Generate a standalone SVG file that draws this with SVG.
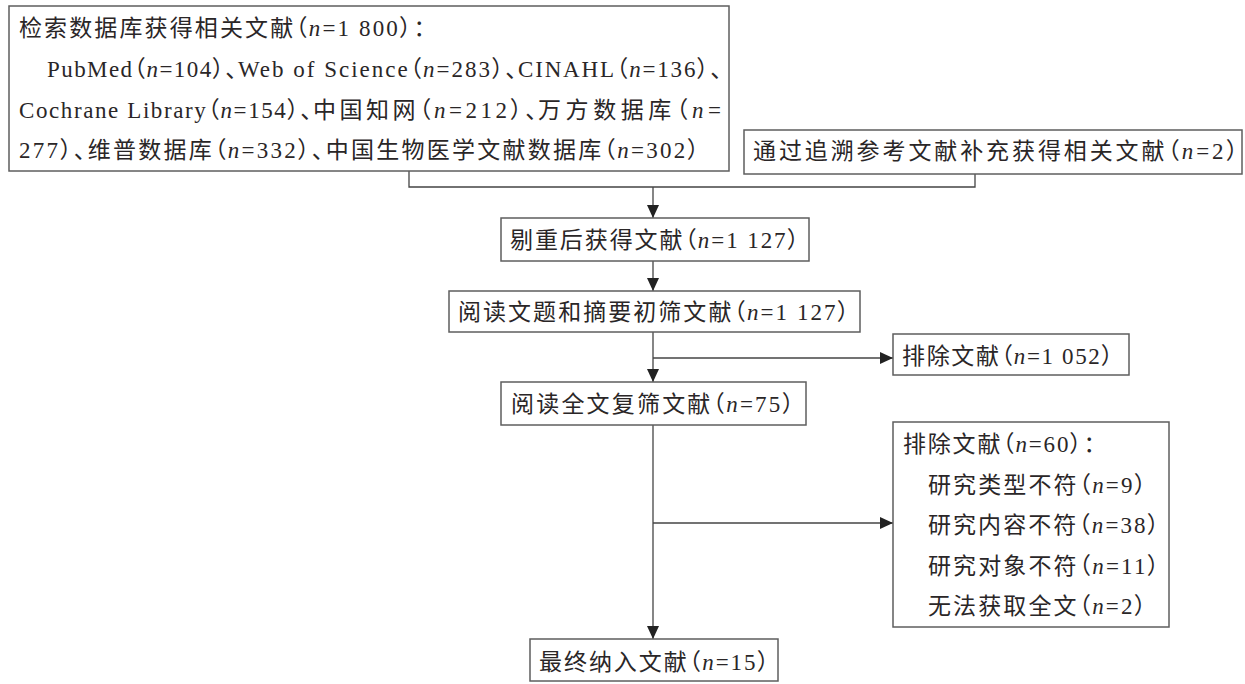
<svg xmlns="http://www.w3.org/2000/svg" width="1245" height="684" viewBox="0 0 1245 684">
<style>
.box{fill:#fff;stroke:#5e5e5e;stroke-width:1.5}
.t{font-family:"Liberation Serif","Noto Sans CJK SC",serif;font-size:23px;fill:#2a2627;font-feature-settings:"palt"}
.i{font-style:italic}
.c{fill:none;stroke:#444;stroke-width:1.3}
</style>
<defs>
<marker id="ah" markerUnits="userSpaceOnUse" markerWidth="13" markerHeight="12" refX="13" refY="6" orient="auto">
<path d="M0,0 L13,6 L0,12 z" fill="#222"/>
</marker>
</defs>
<rect width="1245" height="684" fill="#fff"/>
<g id="connectors">
<path class="c" d="M409,171 V187 H975 V174"/>
<path class="c" d="M653,187 V218" marker-end="url(#ah)"/>
<path class="c" d="M653,261 V291" marker-end="url(#ah)"/>
<path class="c" d="M653,332 V382" marker-end="url(#ah)"/>
<path class="c" d="M653,358 H893" marker-end="url(#ah)"/>
<path class="c" d="M653,425 V639" marker-end="url(#ah)"/>
<path class="c" d="M653,523 H893" marker-end="url(#ah)"/>
</g>
<g id="n1">
<rect class="box" x="9" y="6" width="720" height="165"/>
<text class="t" x="19" y="36" textLength="406" lengthAdjust="spacing">检索数据库获得相关文献（<tspan class="i">n</tspan>=1 800）：</text>
<text class="t" x="47" y="77" textLength="190" lengthAdjust="spacing">PubMed（<tspan class="i">n</tspan>=104）、</text>
<text class="t" x="238" y="77" textLength="279" lengthAdjust="spacing">Web of Science（<tspan class="i">n</tspan>=283）、</text>
<text class="t" x="518" y="77" textLength="204" lengthAdjust="spacing">CINAHL（<tspan class="i">n</tspan>=136）、</text>
<text class="t" x="19" y="118" textLength="293" lengthAdjust="spacing">Cochrane Library（<tspan class="i">n</tspan>=154）、</text>
<text class="t" x="313" y="118" textLength="224" lengthAdjust="spacing">中国知网（<tspan class="i">n</tspan>=212）、</text>
<text class="t" x="538" y="118" textLength="183" lengthAdjust="spacing">万方数据库（<tspan class="i">n</tspan>=</text>
<text class="t" x="19" y="158" textLength="680" lengthAdjust="spacing">277）、维普数据库（<tspan class="i">n</tspan>=332）、中国生物医学文献数据库（<tspan class="i">n</tspan>=302）</text>
</g>
<g id="n2">
<rect class="box" x="744" y="130" width="498" height="44"/>
<text class="t" x="753" y="159" textLength="485" lengthAdjust="spacing">通过追溯参考文献补充获得相关文献（<tspan class="i">n</tspan>=2）</text>
</g>
<g id="n3">
<rect class="box" x="501" y="218" width="308" height="43"/>
<text class="t" x="510" y="248" textLength="289" lengthAdjust="spacing">剔重后获得文献（<tspan class="i">n</tspan>=1 127）</text>
</g>
<g id="n4">
<rect class="box" x="449" y="291" width="411" height="41"/>
<text class="t" x="458" y="320" textLength="391" lengthAdjust="spacing">阅读文题和摘要初筛文献（<tspan class="i">n</tspan>=1 127）</text>
</g>
<g id="n5">
<rect class="box" x="893" y="334" width="236" height="41"/>
<text class="t" x="902" y="364" textLength="211" lengthAdjust="spacing">排除文献（<tspan class="i">n</tspan>=1 052）</text>
</g>
<g id="n6">
<rect class="box" x="501" y="382" width="305" height="43"/>
<text class="t" x="511" y="412" textLength="283" lengthAdjust="spacing">阅读全文复筛文献（<tspan class="i">n</tspan>=75）</text>
</g>
<g id="n7">
<rect class="box" x="893" y="422" width="276" height="205"/>
<text class="t" x="903" y="452" textLength="192" lengthAdjust="spacing">排除文献（<tspan class="i">n</tspan>=60）：</text>
<text class="t" x="928" y="493" textLength="218" lengthAdjust="spacing">研究类型不符（<tspan class="i">n</tspan>=9）</text>
<text class="t" x="928" y="533" textLength="231" lengthAdjust="spacing">研究内容不符（<tspan class="i">n</tspan>=38）</text>
<text class="t" x="928" y="574" textLength="231" lengthAdjust="spacing">研究对象不符（<tspan class="i">n</tspan>=11）</text>
<text class="t" x="928" y="614" textLength="218" lengthAdjust="spacing">无法获取全文（<tspan class="i">n</tspan>=2）</text>
</g>
<g id="n8">
<rect class="box" x="530" y="639" width="248" height="42"/>
<text class="t" x="539" y="670" textLength="230" lengthAdjust="spacing">最终纳入文献（<tspan class="i">n</tspan>=15）</text>
</g>
</svg>
